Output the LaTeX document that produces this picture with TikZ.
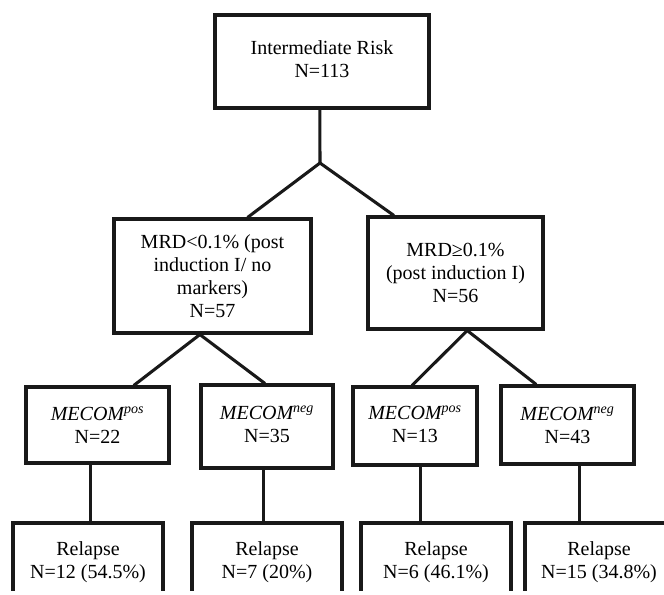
\documentclass[tikz,border=0pt]{standalone}
\usepackage{fontspec}
\setmainfont{Liberation Serif}
\usetikzlibrary{calc}
\newcommand{\upstack}[2]{\raisebox{#1}{\begin{tabular}{@{}c@{}}#2\end{tabular}}}
\begin{document}
\begin{tikzpicture}[x=0.75pt,y=-0.75pt,
  box/.style={draw=black!90, line width=2.3pt, align=center, inner sep=0pt,
    font=\fontsize{15pt}{17.4pt}\selectfont},
  conn/.style={draw=black!90, line width=2.3pt}]
\useasboundingbox (0,0) rectangle (664,594);
\clip (0,0) rectangle (664,590);
% level 0
\node[box, minimum width=160.5pt, minimum height=69.75pt] (top) at (322,61.5) {\upstack{-1.5pt}{Intermediate Risk\\N=113}};
% level 1
\node[box, minimum width=147.75pt, minimum height=85.5pt] (mrdL) at (212.5,276) {MRD<0.1\% (post\\induction I/ no\\markers)\\N=57};
\node[box, minimum width=131.25pt, minimum height=84pt] (mrdR) at (455.5,273) {MRD≥0.1\%\\(post induction I)\\N=56};
% level 2
\node[box, minimum width=107.25pt, minimum height=57pt] (mpL) at (97.5,425) {\textit{MECOM\textsuperscript{pos}}\\N=22};
\node[box, minimum width=99pt, minimum height=62.25pt] (mnL) at (267,426.5) {\upstack{5.5pt}{\textit{MECOM\textsuperscript{neg}}\\N=35}};
\node[box, minimum width=93pt, minimum height=58.5pt] (mpR) at (415,426) {\upstack{5.2pt}{\textit{MECOM\textsuperscript{pos}}\\N=13}};
\node[box, minimum width=99.75pt, minimum height=58.5pt] (mnR) at (567.5,425) {\textit{MECOM\textsuperscript{neg}}\\N=43};
% level 3
\node[box, minimum width=112.5pt, minimum height=58.5pt] (r1) at (88,562) {Relapse\\N=12 (54.5\%)};
\node[box, minimum width=112.5pt, minimum height=58.5pt] (r2) at (267,562) {Relapse\\N=7 (20\%)};
\node[box, minimum width=112.5pt, minimum height=58.5pt] (r3) at (436,562) {Relapse\\N=6 (46.1\%)};
\node[box, minimum width=111pt, minimum height=58.5pt] (r4) at (599,562) {Relapse\\N=15 (34.8\%)};
% connectors
\coordinate (j0) at (320,163);
\draw[conn] ($(top.south west)!0.49!(top.south east)$) -- (j0);
\draw[conn] (j0) -- ($(mrdL.north west)!0.675!(mrdL.north east)$);
\draw[conn] (j0) -- ($(mrdR.north west)!0.154!(mrdR.north east)$);
\coordinate (j1) at ($(mrdL.south west)!0.437!(mrdL.south east)$);
\draw[conn] (j1) -- ($(mpL.north west)!0.748!(mpL.north east)$);
\draw[conn] (j1) -- ($(mnL.north west)!0.485!(mnL.north east)$);
\coordinate (j2) at ($(mrdR.south west)!0.566!(mrdR.south east)$);
\draw[conn] (j2) -- ($(mpR.north west)!0.476!(mpR.north east)$);
\draw[conn] (j2) -- ($(mnR.north west)!0.27!(mnR.north east)$);
\coordinate (s1) at ($(mpL.south west)!0.455!(mpL.south east)$);
\draw[conn] (s1) -- (s1 |- r1.north);
\coordinate (s2) at ($(mnL.south west)!0.477!(mnL.south east)$);
\draw[conn] (s2) -- (s2 |- r2.north);
\coordinate (s3) at ($(mpR.south west)!0.54!(mpR.south east)$);
\draw[conn] (s3) -- (s3 |- r3.north);
\coordinate (s4) at ($(mnR.south west)!0.586!(mnR.south east)$);
\draw[conn] (s4) -- (s4 |- r4.north);
\end{tikzpicture}
\end{document}
